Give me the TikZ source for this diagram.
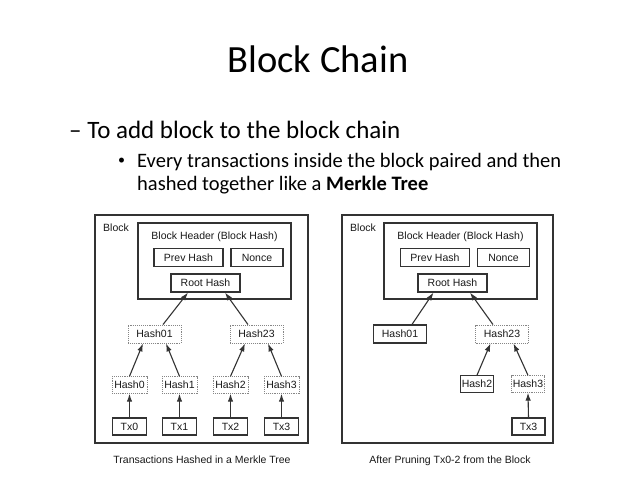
\documentclass[tikz,border=0pt]{standalone}
\usepackage{fontspec}
\setmainfont{Carlito}[Ligatures=NoCommon]
\newfontfamily\diagfont{Liberation Sans}
\usetikzlibrary{arrows.meta}
\definecolor{linegray}{HTML}{333333}
\definecolor{dotgray}{HTML}{868686}
\newcommand{\diagsize}{\diagfont\fontsize{10.5}{12}\selectfont}

\begin{document}
\begin{tikzpicture}[x=1pt, y=-1pt,
  box/.style={draw=linegray, line width=1.1pt, inner sep=0pt, minimum height=18pt, text=black!90, font=\diagsize},
  dotbox/.style={box, draw=dotgray, line width=0.9pt, densely dotted},
  outerbox/.style={draw=linegray, line width=1.1pt, inner sep=0pt},
  lbl/.style={inner sep=0pt, text=black!90, font=\diagsize},
  slidetxt/.style={inner sep=0pt, anchor=base west, font=\fontsize{20.5}{23}\selectfont},
  arr/.style={draw=linegray, line width=1.1pt, -{Latex[length=8pt,width=5.5pt]}}
]
\useasboundingbox[fill=white] (0,0) rectangle (638,479);

% slide text
\node[inner sep=0pt, anchor=base, font=\fontsize{38.5}{44}\selectfont] (title) at (318,72) {Block Chain};
\node[inner sep=0pt, anchor=base west, font=\fontsize{25}{30}\selectfont] (point) at (69,138) {– To add block to the block chain};
\node[inner sep=0pt, anchor=base west, font=\fontsize{14}{18}\selectfont] (bullet) at (118,164.5) {•};
\node[slidetxt] (subpoint1) at (137,167) {Every transactions inside the block paired and then};
\node[slidetxt] (subpoint2) at (137,190) {hashed together like a \textbf{Merkle Tree}};

% left block: full merkle tree
\node[outerbox, minimum width=213pt, minimum height=228pt] (Lblock) at (201.5,329) {};
\node[lbl, anchor=base west] (Lblocklbl) at (103,231.5) {Block};
\node[outerbox, minimum width=153pt, minimum height=76pt] (Lhead) at (214.5,261) {};
\node[lbl, anchor=base] (Lheadlbl) at (214.5,239.5) {Block Header (Block Hash)};
\node[box, minimum width=69pt] (Lprev) at (188.5,257.5) {Prev Hash};
\node[box, minimum width=52pt] (Lnonce) at (257,257.5) {Nonce};
\node[box, minimum width=69pt] (Lroot) at (205.5,283) {Root Hash};
\node[dotbox, minimum width=53pt] (Lh01) at (154.5,334) {Hash01};
\node[dotbox, minimum width=53pt] (Lh23) at (256.5,334) {Hash23};
\foreach \i/\x in {0/129.5, 1/179.5, 2/230.5, 3/281.5} {
  \node[dotbox, minimum width=35pt, minimum height=16.5pt] (Lh\i) at (\x,385) {Hash\i};
  \node[box, minimum width=34pt, minimum height=17pt] (Ltx\i) at (\x,426.5) {Tx\i};
  \draw[arr] (Ltx\i.north) -- (Lh\i.south);
}
\draw[arr] (Lh0.north) -- ([xshift=-11.5pt]Lh01.south);
\draw[arr] (Lh1.north) -- ([xshift=11.5pt]Lh01.south);
\draw[arr] (Lh2.north) -- ([xshift=-11.5pt]Lh23.south);
\draw[arr] (Lh3.north) -- ([xshift=11.5pt]Lh23.south);
\draw[arr] ([xshift=8.5pt]Lh01.north) -- ([xshift=-17.5pt]Lroot.south);
\draw[arr] ([xshift=-8.5pt]Lh23.north) -- ([xshift=19.5pt]Lroot.south);
\node[lbl, anchor=base] (Lcap) at (202,463) {Transactions Hashed in a Merkle Tree};

% right block: after pruning
\node[outerbox, minimum width=211pt, minimum height=228pt] (Rblock) at (447.5,329) {};
\node[lbl, anchor=base west] (Rblocklbl) at (350,231.5) {Block};
\node[outerbox, minimum width=153pt, minimum height=76pt] (Rhead) at (460.5,261) {};
\node[lbl, anchor=base] (Rheadlbl) at (460.5,239.5) {Block Header (Block Hash)};
\node[box, minimum width=69pt] (Rprev) at (435,257.5) {Prev Hash};
\node[box, minimum width=52pt] (Rnonce) at (503.5,257.5) {Nonce};
\node[box, minimum width=69pt] (Rroot) at (452.5,283) {Root Hash};
\node[box, minimum width=53pt] (Rh01) at (400,334) {Hash01};
\node[dotbox, minimum width=53pt] (Rh23) at (502,334) {Hash23};
\node[box, minimum width=33pt, minimum height=16.5pt] (Rh2) at (477,384) {Hash2};
\node[dotbox, minimum width=33pt, minimum height=16.5pt] (Rh3) at (528,384) {Hash3};
\node[box, minimum width=33pt, minimum height=17pt] (Rtx3) at (528.5,426.5) {Tx3};
\draw[arr] (Rtx3.north) -- (Rh3.south);
\draw[arr] (Rh2.north) -- ([xshift=-11.5pt]Rh23.south);
\draw[arr] (Rh3.north) -- ([xshift=11.5pt]Rh23.south);
\draw[arr] ([xshift=12pt]Rh01.north) -- ([xshift=-19pt]Rroot.south);
\draw[arr] ([xshift=-9pt]Rh23.north) -- ([xshift=17.5pt]Rroot.south);
\node[lbl, anchor=base] (Rcap) at (450,463) {After Pruning Tx0-2 from the Block};
\end{tikzpicture}
\end{document}
